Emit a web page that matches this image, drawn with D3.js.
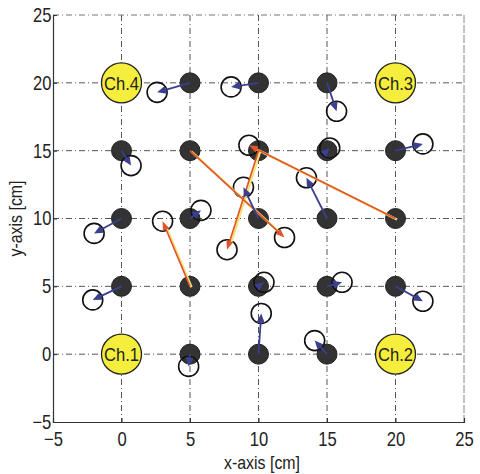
<!DOCTYPE html>
<html>
<head>
<meta charset="utf-8">
<script src="https://cdn.jsdelivr.net/npm/d3@7"></script>
<style>
  html, body { margin: 0; padding: 0; background: #fff; }
  svg { display: block; font-family: "Liberation Sans", Arial, sans-serif; }
</style>
</head>
<body>
<svg id="chart" width="480" height="474"></svg>
<script>
// ---- data ----
const xTicks = [-5, 0, 5, 10, 15, 20, 25];
const yTicks = [-5, 0, 5, 10, 15, 20, 25];
const trueX = [5, 10, 15, 0, 5, 10, 15, 20, 0, 5, 10, 15, 20, 0, 5, 10, 15, 20, 5, 10, 15];
const trueY = [20, 20, 20, 15, 15, 15, 15, 15, 10, 10, 10, 10, 10, 5, 5, 5, 5, 5, 0, 0, 0];
const estX  = [2.6, 8.0, 15.7, 0.7, 11.9, 7.7, 15.2, 22.0, -2.0, 5.8, 8.9, 13.5, 9.3, -2.1, 3.0, 10.4, 16.1, 22.0, 4.9, 10.2, 14.1];
const estY  = [19.3, 19.7, 17.9, 13.9, 8.6, 7.7, 15.2, 15.5, 8.9, 10.6, 12.3, 13.0, 15.4, 4.0, 9.8, 5.3, 5.3, 3.9, -0.9, 3.0, 1.0];
const chX = [0, 20, 20, 0];
const chY = [0, 0, 20, 20];
const chLabels = ["Ch.1", "Ch.2", "Ch.3", "Ch.4"];
const errorThreshold = 4;

// ---- layout ----
const FONT = "'Liberation Sans', Arial, sans-serif";
const svg = d3.select("#chart");
const L = 53, T = 15, R = 464, B = 422;
const x = d3.scaleLinear().domain([-5, 25]).range([L, R]);
const y = d3.scaleLinear().domain([-5, 25]).range([B, T]);

// grid
const grid = svg.append("g");
grid.selectAll("line.vx").data(xTicks.slice(1, -1)).join("line")
  .attr("x1", d => x(d)).attr("x2", d => x(d)).attr("y1", T).attr("y2", B)
  .attr("stroke", "#555").attr("stroke-width", 1).attr("stroke-dasharray", "6,3,1,3");
grid.selectAll("line.hy").data(yTicks.slice(1, -1)).join("line")
  .attr("y1", d => y(d)).attr("y2", d => y(d)).attr("x1", L).attr("x2", R)
  .attr("stroke", "#555").attr("stroke-width", 1).attr("stroke-dasharray", "6,3,1,3");

// frame
svg.append("line").attr("x1", L).attr("x2", R).attr("y1", T).attr("y2", T)
  .attr("stroke", "#777").attr("stroke-dasharray", "6,3,1,3");
svg.append("line").attr("x1", R).attr("x2", R).attr("y1", T).attr("y2", B)
  .attr("stroke", "#888").attr("stroke-dasharray", "8,2");

// axes
const xAxis = d3.axisBottom(x).tickValues(xTicks).tickSize(-4).tickPadding(10);
const yAxis = d3.axisLeft(y).tickValues(yTicks).tickSize(-4).tickPadding(2);
const gx = svg.append("g").attr("transform", `translate(0,${B})`).call(xAxis);
const gy = svg.append("g").attr("transform", `translate(${L},0)`).call(yAxis);
[gx, gy].forEach(g => {
  g.select(".domain").attr("stroke", "#333").attr("stroke-width", 1.2);
  g.selectAll(".tick line").attr("stroke", "#333");
  g.selectAll(".tick text").attr("font-size", 20).attr("fill", "#222").attr("font-family", FONT)
    .attr("transform", "scale(0.83,1)");
});

svg.append("text").attr("x", 262).attr("y", 469).attr("text-anchor", "middle")
  .attr("font-size", 19).attr("fill", "#222").attr("font-family", FONT)
  .attr("textLength", 76).attr("lengthAdjust", "spacingAndGlyphs").text("x-axis [cm]");
svg.append("text").attr("transform", `translate(22,${(T + B) / 2}) rotate(-90)`)
  .attr("text-anchor", "middle").attr("font-size", 19).attr("fill", "#222").attr("font-family", FONT)
  .attr("textLength", 76).attr("lengthAdjust", "spacingAndGlyphs").text("y-axis [cm]");

// channels
const ch = svg.append("g").selectAll("g").data(chLabels).join("g")
  .attr("transform", (d, i) => `translate(${x(chX[i])},${y(chY[i])})`);
ch.append("circle").attr("r", 20).attr("fill", "#f6ee3c").attr("stroke", "#222").attr("stroke-width", 1.3);
ch.append("text").attr("text-anchor", "middle").attr("dy", "0.36em")
  .attr("font-size", 19).attr("fill", "#222").attr("font-family", FONT)
  .attr("textLength", 35).attr("lengthAdjust", "spacingAndGlyphs")
  .text(d => d);

// true positions
const idx = d3.range(trueX.length);
svg.append("g").selectAll("circle").data(idx).join("circle")
  .attr("cx", i => x(trueX[i])).attr("cy", i => y(trueY[i])).attr("r", 10)
  .attr("fill", "#333").attr("stroke", "#222");

// estimated positions
svg.append("g").selectAll("circle").data(idx).join("circle")
  .attr("cx", i => x(estX[i])).attr("cy", i => y(estY[i])).attr("r", 10)
  .attr("fill", "none").attr("stroke", "#111").attr("stroke-width", 1.6);

// arrows
const isBig = i => Math.hypot(estX[i] - trueX[i], estY[i] - trueY[i]) > errorThreshold;
const arrows = svg.append("g");
function arrowHead(i, len, w) {
  const x1 = x(trueX[i]), y1 = y(trueY[i]), x2 = x(estX[i]), y2 = y(estY[i]);
  const a = Math.atan2(y2 - y1, x2 - x1);
  const bx = x2 - len * Math.cos(a), by = y2 - len * Math.sin(a);
  const px = -Math.sin(a) * w / 2, py = Math.cos(a) * w / 2;
  return `M${x2},${y2}L${bx + px},${by + py}L${bx - px},${by - py}Z`;
}
function shaftEnd(i, len) {
  const x1 = x(trueX[i]), y1 = y(trueY[i]), x2 = x(estX[i]), y2 = y(estY[i]);
  const a = Math.atan2(y2 - y1, x2 - x1);
  return [x2 - len * Math.cos(a), y2 - len * Math.sin(a)];
}
const big = idx.filter(isBig), small = idx.filter(i => !isBig(i));
arrows.selectAll("line.halo").data(big).join("line")
  .attr("x1", i => x(trueX[i]) + 1.5).attr("y1", i => y(trueY[i]) + 1)
  .attr("x2", i => shaftEnd(i, 6)[0] + 1.5).attr("y2", i => shaftEnd(i, 6)[1] + 1)
  .attr("stroke", "#f3e27a").attr("stroke-width", 2.5);
arrows.selectAll("line.big").data(big).join("line")
  .attr("x1", i => x(trueX[i])).attr("y1", i => y(trueY[i]))
  .attr("x2", i => shaftEnd(i, 6)[0]).attr("y2", i => shaftEnd(i, 6)[1])
  .attr("stroke", "#e0542c").attr("stroke-width", 1.6);
arrows.selectAll("path.big").data(big).join("path")
  .attr("d", i => arrowHead(i, 9, 7)).attr("fill", "#e0542c");
arrows.selectAll("line.small").data(small).join("line")
  .attr("x1", i => x(trueX[i])).attr("y1", i => y(trueY[i]))
  .attr("x2", i => shaftEnd(i, 6)[0]).attr("y2", i => shaftEnd(i, 6)[1])
  .attr("stroke", "#3b3f8f").attr("stroke-width", 1.8);
arrows.selectAll("path.small").data(small).join("path")
  .attr("d", i => arrowHead(i, 9, 8)).attr("fill", "#3b3f8f");
</script>
</body>
</html>
